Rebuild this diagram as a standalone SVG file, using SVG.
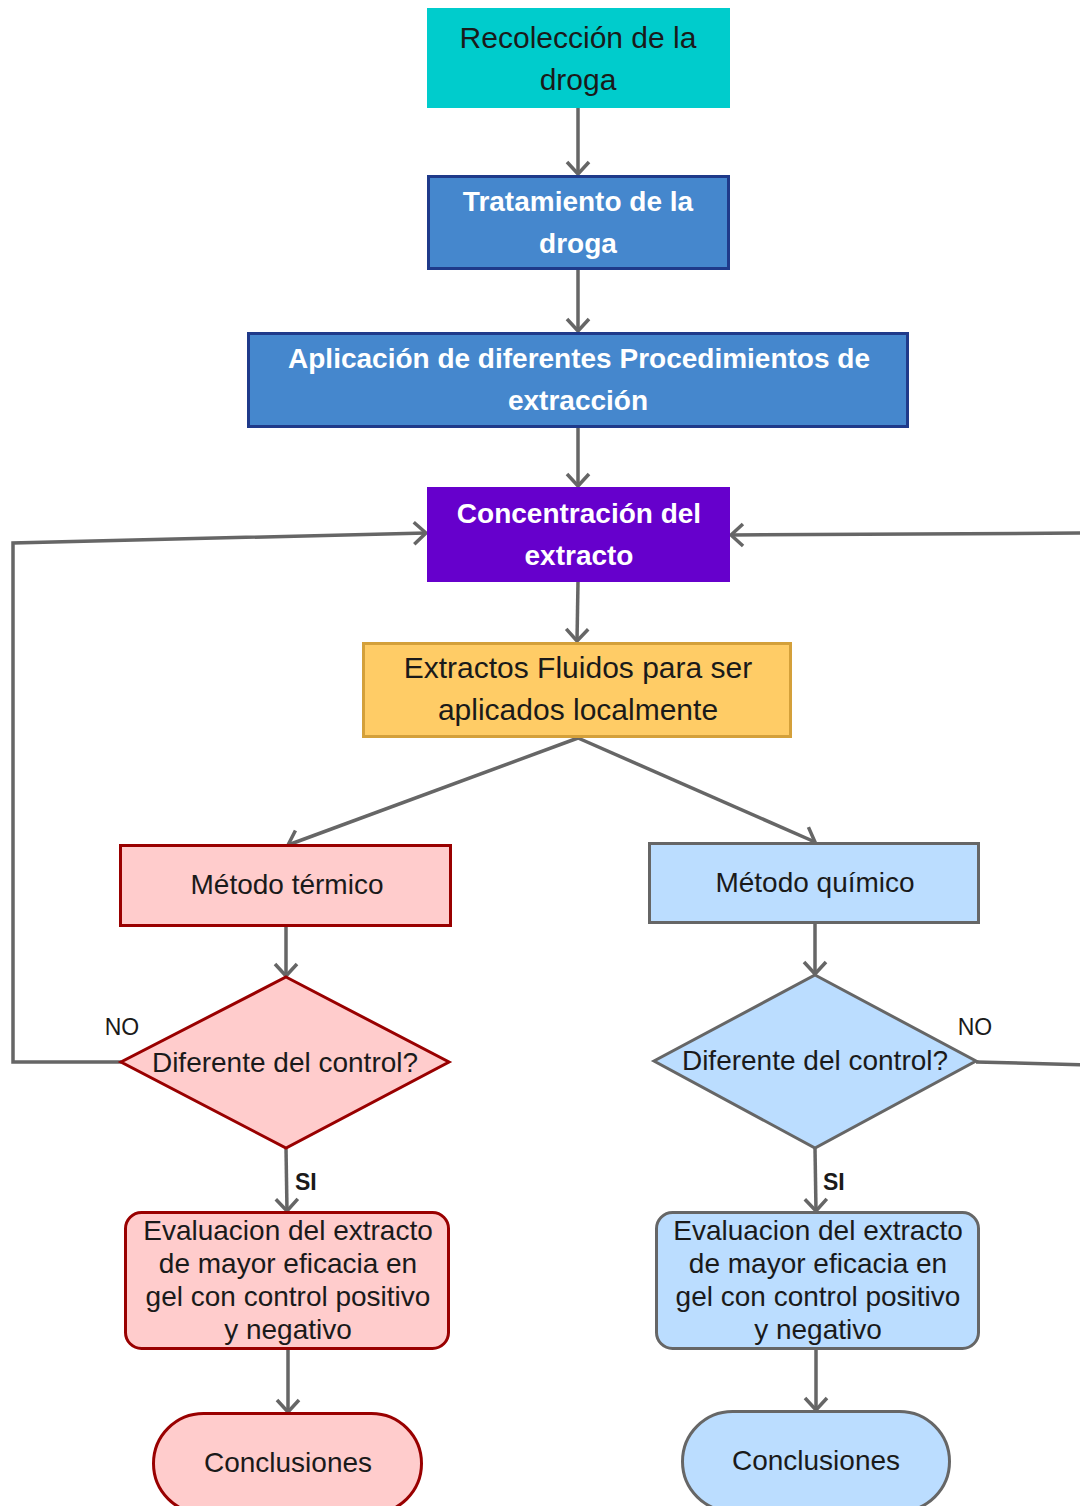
<svg xmlns="http://www.w3.org/2000/svg" width="1080" height="1506" viewBox="0 0 1080 1506">
<defs>
<marker id="arr" markerUnits="userSpaceOnUse" viewBox="0 0 16 26" markerWidth="16" markerHeight="26" refX="14" refY="13" orient="auto">
<path d="M2,2 L14,13 L2,24" fill="none" stroke="#666666" stroke-width="3.5"/>
</marker>
<style>
.t{font-family:"Liberation Sans",Arial,sans-serif;text-anchor:middle}
.dk{fill:#1a1a1a}
.wb{fill:#ffffff;font-weight:bold}
.c{fill:none;stroke:#666666;stroke-width:3.5}
.lbl{font-family:"Liberation Sans",Arial,sans-serif;font-size:23px;fill:#1a1a1a}
.red{fill:#FFCCCC;stroke:#990000;stroke-width:3}
.blu{fill:#BBDDFF;stroke:#666666;stroke-width:3}
.dblue{fill:#4587CD;stroke:#1F3A8A;stroke-width:3}
</style>
</defs>
<rect width="1080" height="1506" fill="#ffffff"/>
<g id="connectors">
<path class="c" d="M578,108 L578,174" marker-end="url(#arr)"/>
<path class="c" d="M578,269 L578,331" marker-end="url(#arr)"/>
<path class="c" d="M578,427 L578,486" marker-end="url(#arr)"/>
<path class="c" d="M578,582 L577,641" marker-end="url(#arr)"/>
<path class="c" d="M578,738 L288,845" marker-end="url(#arr)"/>
<path class="c" d="M578,738 L815,842" marker-end="url(#arr)"/>
<path class="c" d="M286,926 L286,976" marker-end="url(#arr)"/>
<path class="c" d="M815,923 L815,974" marker-end="url(#arr)"/>
<path class="c" d="M286,1148 L287,1211" marker-end="url(#arr)"/>
<path class="c" d="M815,1148 L816,1211" marker-end="url(#arr)"/>
<path class="c" d="M288,1349 L288,1412" marker-end="url(#arr)"/>
<path class="c" d="M816,1349 L816,1410" marker-end="url(#arr)"/>
<path class="c" d="M121,1062 L13,1062 L13,543 L426,533" marker-end="url(#arr)"/>
<path class="c" d="M976,1062 L1090,1065 L1090,533 L731,535" marker-end="url(#arr)"/>
<text class="lbl" x="122" y="1035" text-anchor="middle">NO</text>
<text class="lbl" x="975" y="1035" text-anchor="middle">NO</text>
<text class="lbl" x="295" y="1190" font-weight="bold">SI</text>
<text class="lbl" x="823" y="1190" font-weight="bold">SI</text>
</g>
<g id="n1">
<rect x="427" y="8" width="303" height="100" fill="#00CCCC"/>
<text class="t dk" font-size="30" x="578" y="48">Recolección de la</text>
<text class="t dk" font-size="30" x="578" y="90">droga</text>
</g>
<g id="n2">
<rect class="dblue" x="428.5" y="176.5" width="300" height="92"/>
<text class="t wb" font-size="28" x="578" y="211">Tratamiento de la</text>
<text class="t wb" font-size="28" x="578" y="253">droga</text>
</g>
<g id="n3">
<rect class="dblue" x="248.5" y="333.5" width="659" height="93"/>
<text class="t wb" font-size="28" x="579" y="368">Aplicación de diferentes Procedimientos de</text>
<text class="t wb" font-size="28" x="578" y="410">extracción</text>
</g>
<g id="n4">
<rect x="427" y="487" width="303" height="95" fill="#6600CC"/>
<text class="t wb" font-size="28" x="579" y="523">Concentración del</text>
<text class="t wb" font-size="28" x="579" y="565">extracto</text>
</g>
<g id="n5">
<rect x="363.5" y="643.5" width="427" height="93" fill="#FFCC66" stroke="#D4A03A" stroke-width="3"/>
<text class="t dk" font-size="30" x="578" y="678">Extractos Fluidos para ser</text>
<text class="t dk" font-size="30" x="578" y="720">aplicados localmente</text>
</g>
<g id="n6">
<rect class="red" x="120.5" y="845.5" width="330" height="80"/>
<text class="t dk" font-size="28" x="287" y="894">Método térmico</text>
</g>
<g id="n7">
<rect class="blu" x="649.5" y="843.5" width="329" height="79"/>
<text class="t dk" font-size="28" x="815" y="892">Método químico</text>
</g>
<g id="n8">
<polygon class="red" points="286,977 449,1062 286,1148 121,1062"/>
<text class="t dk" font-size="28" x="285" y="1072">Diferente del control?</text>
</g>
<g id="n9">
<polygon class="blu" points="815,975 976,1061 815,1148 654,1061"/>
<text class="t dk" font-size="28" x="815" y="1070">Diferente del control?</text>
</g>
<g id="n10">
<rect class="red" x="125.5" y="1212.5" width="323" height="136" rx="16"/>
<text class="t dk" font-size="28" x="288" y="1240">Evaluacion del extracto</text>
<text class="t dk" font-size="28" x="288" y="1273">de mayor eficacia en</text>
<text class="t dk" font-size="28" x="288" y="1306">gel con control positivo</text>
<text class="t dk" font-size="28" x="288" y="1339">y negativo</text>
</g>
<g id="n11">
<rect class="blu" x="656.5" y="1212.5" width="322" height="136" rx="16"/>
<text class="t dk" font-size="28" x="818" y="1240">Evaluacion del extracto</text>
<text class="t dk" font-size="28" x="818" y="1273">de mayor eficacia en</text>
<text class="t dk" font-size="28" x="818" y="1306">gel con control positivo</text>
<text class="t dk" font-size="28" x="818" y="1339">y negativo</text>
</g>
<g id="n12">
<rect class="red" x="153.5" y="1413.5" width="268" height="100" rx="50" ry="50"/>
<text class="t dk" font-size="28" x="288" y="1472">Conclusiones</text>
</g>
<g id="n13">
<rect class="blu" x="682.5" y="1411.5" width="267" height="100" rx="50" ry="50"/>
<text class="t dk" font-size="28" x="816" y="1470">Conclusiones</text>
</g>
</svg>
